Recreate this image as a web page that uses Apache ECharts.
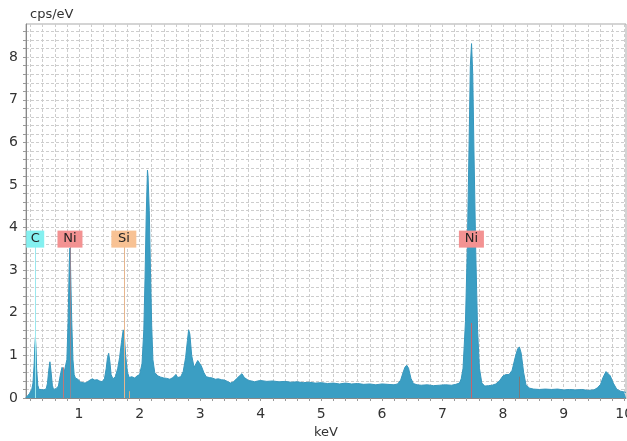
<!DOCTYPE html>
<html>
<head>
<meta charset="utf-8">
<title>EDS spectrum</title>
<script src="https://cdn.jsdelivr.net/npm/echarts@6.0.0/dist/echarts.min.js"></script>
<style>
  html, body { margin: 0; padding: 0; background: #fff; }
  #spec { width: 627px; height: 441px; }
</style>
</head>
<body>
<div id="spec"></div>
<script>
// energy (keV) and counts (cps/eV)
var keV = [0.12, 0.15, 0.18, 0.20, 0.22, 0.24, 0.26, 0.27, 0.28, 0.29, 0.30, 0.32, 0.34, 0.36, 0.38, 0.40, 0.42, 0.44, 0.46, 0.48,
  0.50, 0.52, 0.54, 0.56, 0.58, 0.60, 0.62, 0.64, 0.66, 0.68, 0.70, 0.72, 0.74, 0.76, 0.78, 0.80, 0.82, 0.84, 0.85, 0.86,
  0.88, 0.90, 0.92, 0.94, 0.96, 0.98, 1.00, 1.03, 1.06, 1.10, 1.14, 1.18, 1.22, 1.26, 1.30, 1.34, 1.38, 1.42, 1.45, 1.47,
  1.49, 1.51, 1.53, 1.56, 1.60, 1.64, 1.67, 1.70, 1.73, 1.75, 1.77, 1.80, 1.83, 1.87, 1.92, 1.96, 2.00, 2.04, 2.07, 2.09,
  2.11, 2.13, 2.14, 2.16, 2.18, 2.20, 2.22, 2.25, 2.30, 2.35, 2.40, 2.45, 2.50, 2.55, 2.60, 2.63, 2.68, 2.72, 2.76, 2.79,
  2.81, 2.83, 2.86, 2.90, 2.93, 2.96, 2.99, 3.02, 3.06, 3.10, 3.15, 3.20, 3.25, 3.30, 3.35, 3.40, 3.45, 3.50, 3.55, 3.60,
  3.65, 3.69, 3.73, 3.80, 3.85, 3.90, 3.95, 4.00, 4.10, 4.20, 4.30, 4.40, 4.50, 4.60, 4.70, 4.80, 4.90, 5.00, 5.10, 5.20,
  5.30, 5.40, 5.50, 5.60, 5.70, 5.80, 5.90, 6.00, 6.10, 6.20, 6.26, 6.31, 6.35, 6.38, 6.41, 6.44, 6.48, 6.52, 6.58, 6.65,
  6.75, 6.85, 6.95, 7.05, 7.15, 7.22, 7.28, 7.31, 7.34, 7.38, 7.41, 7.44, 7.46, 7.48, 7.50, 7.52, 7.55, 7.58, 7.61, 7.65,
  7.70, 7.76, 7.82, 7.88, 7.94, 8.00, 8.05, 8.10, 8.15, 8.20, 8.24, 8.27, 8.30, 8.34, 8.38, 8.44, 8.50, 8.60, 8.70, 8.80,
  8.90, 9.00, 9.10, 9.20, 9.30, 9.40, 9.50, 9.56, 9.61, 9.65, 9.70, 9.73, 9.77, 9.82, 9.88, 9.94, 10.00, 10.03];
var cps = [0.00, 0.03, 0.10, 0.15, 0.20, 0.35, 0.80, 1.20, 1.42, 1.20, 0.70, 0.30, 0.20, 0.17, 0.20, 0.16, 0.19, 0.18, 0.22, 0.35,
  0.65, 0.85, 0.60, 0.30, 0.20, 0.17, 0.22, 0.19, 0.28, 0.45, 0.60, 0.72, 0.76, 0.64, 0.60, 0.90, 1.80, 3.20, 3.52, 3.10,
  1.80, 0.90, 0.55, 0.47, 0.50, 0.44, 0.41, 0.37, 0.40, 0.35, 0.38, 0.42, 0.45, 0.42, 0.43, 0.40, 0.38, 0.45, 0.70, 0.95,
  1.05, 0.85, 0.55, 0.45, 0.50, 0.70, 0.95, 1.30, 1.60, 1.45, 1.00, 0.60, 0.48, 0.50, 0.47, 0.52, 0.55, 0.80, 1.60, 2.80,
  4.30, 5.35, 5.20, 4.40, 3.00, 1.70, 0.90, 0.60, 0.52, 0.49, 0.47, 0.46, 0.44, 0.48, 0.55, 0.48, 0.50, 0.62, 0.95, 1.35,
  1.60, 1.50, 1.00, 0.72, 0.75, 0.88, 0.90, 0.75, 0.60, 0.50, 0.48, 0.47, 0.44, 0.45, 0.43, 0.42, 0.39, 0.35, 0.38, 0.45,
  0.52, 0.57, 0.48, 0.41, 0.40, 0.38, 0.40, 0.41, 0.39, 0.40, 0.38, 0.39, 0.37, 0.38, 0.36, 0.37, 0.35, 0.36, 0.34, 0.35,
  0.33, 0.35, 0.33, 0.34, 0.32, 0.33, 0.31, 0.33, 0.32, 0.31, 0.33, 0.42, 0.60, 0.72, 0.77, 0.70, 0.46, 0.34, 0.31, 0.30,
  0.31, 0.29, 0.30, 0.31, 0.30, 0.32, 0.35, 0.45, 0.70, 1.80, 3.50, 6.00, 7.80, 8.32, 7.60, 5.80, 3.40, 1.60, 0.70, 0.35,
  0.28, 0.29, 0.30, 0.33, 0.40, 0.52, 0.55, 0.55, 0.65, 0.95, 1.15, 1.20, 1.05, 0.60, 0.30, 0.23, 0.21, 0.20, 0.21, 0.20,
  0.21, 0.19, 0.20, 0.19, 0.20, 0.18, 0.19, 0.24, 0.32, 0.48, 0.62, 0.64, 0.52, 0.35, 0.20, 0.16, 0.14, 0.13];

// tick labels
var xLabels = [1, 2, 3, 4, 5, 6, 7, 8, 9, 10];
var yLabels = [0, 1, 2, 3, 4, 5, 6, 7, 8];

// element markers: name, energy, box colour, line colour, line top
var elName = ['C', 'Ni', 'Si', 'Ni'];
var elKeV = [0.277, 0.851, 1.740, 7.478];
var elBox = ['#84f0f0', '#f39292', '#f8c294', '#f39292'];
var elLine = ['#9ae8ee', '#8d8796', '#e6b68e', '#c4646c'];
var elTop = [3.55, 3.55, 3.55, 1.76];
// extra unlabelled lines
var subKeV = [0.743, 1.837, 8.265];
var subTop = [0.72, 0.16, 0.5];
var subLine = ['#c07878', '#d8ac80', '#7a7a7a'];

var minorX = [], minorY = [];
for (var i = 1; i <= 50; i++) minorX.push(+(i * 0.2).toFixed(1));
for (var j = 0; j <= 43; j++) minorY.push(+(j * 0.2).toFixed(1));

var data = keV.map(function (k, i) { return [k, cps[i]]; });

var lines = [], boxes = [];
elKeV.forEach(function (k, i) {
  lines.push([{ coord: [k, elTop[i]], lineStyle: { color: elLine[i] } }, { coord: [k, 0] }]);
  boxes.push({
    coord: [k, 3.73], value: elName[i],
    symbolSize: [elName[i] === 'C' ? 18 : 25, 17],
    itemStyle: { color: elBox[i] }
  });
});
subKeV.forEach(function (k, i) {
  lines.push([{ coord: [k, subTop[i]], lineStyle: { color: subLine[i] } }, { coord: [k, 0] }]);
});

var grid = { type: [3, 2], color: '#cdcdcd', width: 1 };

var chart = echarts.init(document.getElementById('spec'));
chart.setOption({
  animation: false,
  textStyle: { fontFamily: 'DejaVu Sans' },
  grid: {
    left: 26, right: 1, top: 24, bottom: 43, outerBoundsMode: 'none', containLabel: false,
    show: true, borderColor: '#a9a9a9', borderWidth: 1
  },
  xAxis: {
    type: 'value', min: 0.125, max: 10.03,
    name: 'keV', nameLocation: 'middle', nameGap: 28,
    nameTextStyle: { fontSize: 13, color: '#333' },
    axisLine: { lineStyle: { color: '#888' } },
    axisTick: { customValues: minorX, length: 3, lineStyle: { color: '#999' } },
    axisLabel: { customValues: xLabels, fontSize: 14, color: '#333', margin: 9 },
    splitLine: { show: true, lineStyle: grid }
  },
  yAxis: {
    type: 'value', min: 0, max: 8.78,
    name: 'cps/eV', nameLocation: 'end', nameGap: 3,
    nameTextStyle: { fontSize: 13, color: '#333', align: 'left', padding: [0, 0, 0, 4] },
    axisLine: { show: true, lineStyle: { color: '#888' } },
    axisTick: { show: true, customValues: minorY, length: 3, lineStyle: { color: '#999' } },
    axisLabel: { customValues: yLabels, fontSize: 14, color: '#333', margin: 8 },
    splitLine: { show: true, lineStyle: grid }
  },
  series: [{
    type: 'line',
    data: data,
    showSymbol: false,
    lineStyle: { color: '#3797bd', width: 1 },
    areaStyle: { color: '#3b9ec3', opacity: 1 },
    markLine: {
      silent: true, symbol: 'none', animation: false,
      label: { show: false },
      lineStyle: { type: 'solid', width: 1 },
      data: lines
    },
    markPoint: {
      silent: true, symbol: 'rect', animation: false,
      label: { show: true, position: 'inside', color: '#222', fontSize: 13, formatter: '{c}' },
      data: boxes
    }
  }]
});
</script>
</body>
</html>
